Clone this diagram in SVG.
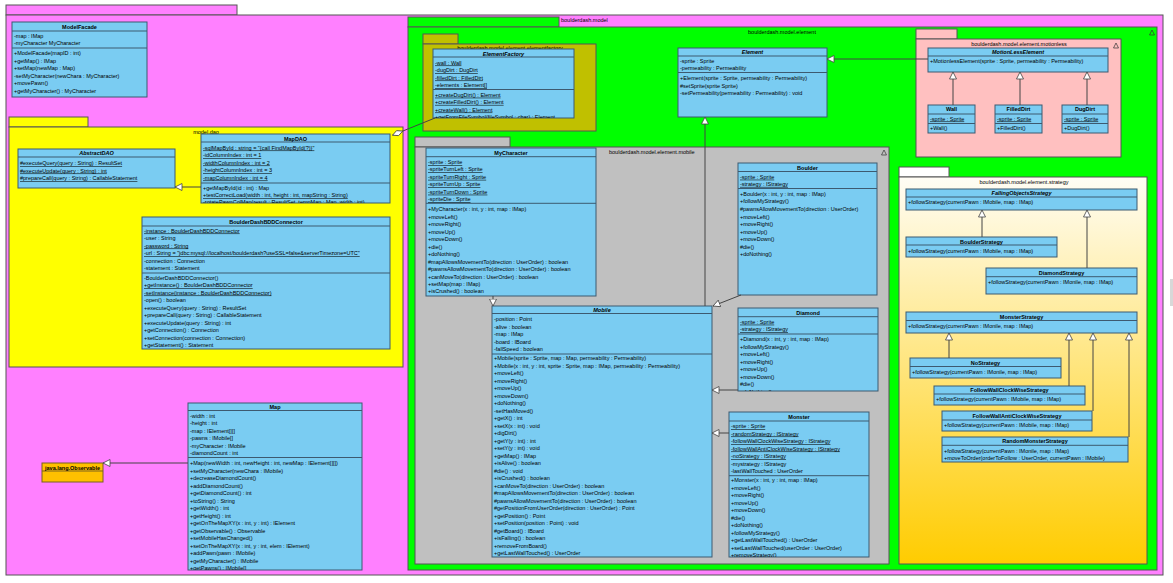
<svg xmlns="http://www.w3.org/2000/svg" width="1173" height="583" viewBox="0 0 1173 583">
<defs>
<style>
text{font-family:"Liberation Sans",Arial,Helvetica,sans-serif;font-size:5.5px;fill:#000}
.h{font-weight:bold;text-anchor:middle}
.i{font-style:italic}
.u{text-decoration:underline}
.m{text-anchor:middle}
.c{fill:#7ACCF2;stroke:#3D5A70;stroke-width:1}
.s{stroke:#3D5A70;stroke-width:1}
.p{stroke:#555;stroke-width:1}
.k{fill:none;stroke:#333;stroke-width:0.7}
.e{fill:none;stroke:#444;stroke-width:1}
</style>
<marker id="gen" markerUnits="userSpaceOnUse" markerWidth="8" markerHeight="8" viewBox="0 0 8 8" refX="7.5" refY="4" orient="auto"><path d="M0.5,0.5 L7.5,4 L0.5,7.5 Z" fill="#fff" stroke="#444" stroke-width="0.8"/></marker>
<marker id="agg" markerUnits="userSpaceOnUse" markerWidth="12" markerHeight="7" viewBox="0 0 12 7" refX="11.5" refY="3.5" orient="auto"><path d="M0.5,3.5 L6,0.8 L11.5,3.5 L6,6.2 Z" fill="#fff" stroke="#444" stroke-width="0.8"/></marker>
<linearGradient id="sg" x1="0" y1="0" x2="0" y2="1"><stop offset="0" stop-color="#FFFDF5"/><stop offset="1" stop-color="#FFCC00"/></linearGradient>
<clipPath id="cMapDAO"><rect x="201" y="134" width="189" height="69"/></clipPath>
<clipPath id="cEF"><rect x="433" y="49" width="141" height="69"/></clipPath>
<clipPath id="cDia"><rect x="738" y="308" width="140" height="83"/></clipPath>
<clipPath id="cMon"><rect x="729" y="412" width="140" height="145"/></clipPath>
<clipPath id="cMap"><rect x="188" y="403" width="174" height="167"/></clipPath>
</defs>

<g id="pkg-model">
<rect x="6" y="5" width="231" height="10" fill="#FF80FF" class="p"/>
<rect x="6" y="15" width="1157" height="560" fill="#FF80FF" class="p"/>
</g>
<rect x="1170" y="279" width="3" height="27" fill="#d8d8d8"/>

<g id="ModelFacade">
<rect x="12" y="22" width="135" height="75" class="c"/>
<line x1="12" y1="31" x2="147" y2="31" class="s"/>
<line x1="12" y1="48" x2="147" y2="48" class="s"/>
<text x="79.5" y="28.5" class="h">ModelFacade</text>
<text x="14" y="38">-map : IMap</text>
<text x="14" y="45">-myCharacter MyCharacter</text>
<text x="14" y="55">+ModelFacade(mapID : int)</text>
<text x="14" y="62.5">+getMap() : IMap</text>
<text x="14" y="70">+setMap(newMap : Map)</text>
<text x="14" y="77.5">-setMyCharacter(newChara : MyCharacter)</text>
<text x="14" y="85">+movePawn()</text>
<text x="14" y="92.5">+getMyCharacter() : MyCharacter</text>
</g>

<g id="pkg-dao">
<rect x="9" y="117" width="79" height="10" fill="#FFFF00" class="p"/>
<rect x="9" y="127" width="394" height="240" fill="#FFFF00" class="p"/>
<text x="206" y="134" class="m">model.dao</text>
</g>

<g id="AbstractDAO">
<rect x="18" y="149" width="157" height="39" class="c"/>
<line x1="18" y1="157" x2="175" y2="157" class="s"/>
<text x="96.5" y="155" class="h i">AbstractDAO</text>
<text x="20" y="165" class="u">#executeQuery(query : String) : ResultSet</text>
<text x="20" y="172.5" class="u">#executeUpdate(query : String) : int</text>
<text x="20" y="180" class="u">#prepareCall(query : String) : CallableStatement</text>
</g>

<g id="MapDAO">
<rect x="201" y="134" width="189" height="69" class="c"/>
<line x1="201" y1="142" x2="390" y2="142" class="s"/>
<line x1="201" y1="183" x2="390" y2="183" class="s"/>
<text x="295.5" y="140.5" class="h">MapDAO</text>
<g clip-path="url(#cMapDAO)">
<text x="203" y="149.5" class="u">-sqlMapById : string = "{call FindMapById(?)}"</text>
<text x="203" y="157" class="u">-idColumnIndex : int = 1</text>
<text x="203" y="164.5" class="u">-widthColumnIndex : int = 2</text>
<text x="203" y="172" class="u">-heightColumnIndex : int = 3</text>
<text x="203" y="179.5" class="u">-mapColumnIndex : int = 4</text>
<text x="203" y="189.5">+getMapById(id : int) : Map</text>
<text x="203" y="197" class="u">+testCorrectLoad(width : int, height : int, mapString : String)</text>
<text x="203" y="203.5">-rotatePawnColMap(result : ResultSet, tempMap : Map, width : int)</text>
</g>
</g>

<g id="BoulderDashBDDConnector">
<rect x="142" y="217" width="248" height="132" class="c"/>
<line x1="142" y1="226" x2="390" y2="226" class="s"/>
<line x1="142" y1="273" x2="390" y2="273" class="s"/>
<text x="266" y="223.7" class="h">BoulderDashBDDConnector</text>
<text x="144" y="232.5" class="u">-instance : BoulderDashBDDConnector</text>
<text x="144" y="240">-user : String</text>
<text x="144" y="247.5" class="u">-password : String</text>
<text x="144" y="255" class="u">-url : String = "jdbc:mysql://localhost/boulderdash?useSSL=false&amp;serverTimezone=UTC"</text>
<text x="144" y="262.5">-connection : Connection</text>
<text x="144" y="270">-statement : Statement</text>
<text x="144" y="279.5">-BoulderDashBDDConnector()</text>
<text x="144" y="287" class="u">+getInstance() : BoulderDashBDDConnector</text>
<text x="144" y="294.5" class="u">-setInstance(instance : BoulderDashBDDConnector)</text>
<text x="144" y="302">-open() : boolean</text>
<text x="144" y="309.5">+executeQuery(query : String) : ResultSet</text>
<text x="144" y="317">+prepareCall(query : String) : CallableStatement</text>
<text x="144" y="324.5">+executeUpdate(query : String) : int</text>
<text x="144" y="332">+getConnection() : Connection</text>
<text x="144" y="339.5">+setConnection(connection : Connection)</text>
<text x="144" y="347">+getStatement() : Statement</text>
</g>

<g id="Map">
<rect x="188" y="403" width="174" height="167" class="c"/>
<line x1="188" y1="410.5" x2="362" y2="410.5" class="s"/>
<line x1="188" y1="457.5" x2="362" y2="457.5" class="s"/>
<text x="275" y="409" class="h">Map</text>
<g clip-path="url(#cMap)">
<text x="190" y="417.5">-width : int</text>
<text x="190" y="425">-height : int</text>
<text x="190" y="432.5">-map : IElement[][]</text>
<text x="190" y="440">-pawns : IMobile[]</text>
<text x="190" y="447.5">-myCharacter : IMobile</text>
<text x="190" y="455">-diamondCount : int</text>
<text x="190" y="465">+Map(newWidth : int, newHeight : int, newMap : IElement[][])</text>
<text x="190" y="472.5">+setMyCharacter(newChara : IMobile)</text>
<text x="190" y="480">+decreaseDiamondCount()</text>
<text x="190" y="487.5">+addDiamondCount()</text>
<text x="190" y="495">+getDiamondCount() : int</text>
<text x="190" y="502.5">+toString() : String</text>
<text x="190" y="510">+getWidth() : int</text>
<text x="190" y="517.5">+getHeight() : int</text>
<text x="190" y="525">+getOnTheMapXY(x : int, y : int) : IElement</text>
<text x="190" y="532.5">+getObservable() : Observable</text>
<text x="190" y="540">+setMobileHasChanged()</text>
<text x="190" y="547.5">+setOnTheMapXY(x : int, y : int, elem : IElement)</text>
<text x="190" y="555">+addPawn(pawn : IMobile)</text>
<text x="190" y="562.5">+getMyCharacter() : IMobile</text>
<text x="190" y="570">+getPawns() : IMobile[]</text>
</g>
</g>

<g id="Observable">
<rect x="42" y="463" width="61" height="19" fill="#FFC000" stroke="#7A6020" stroke-width="1"/>
<line x1="42" y1="471" x2="103" y2="471" stroke="#7A6020" stroke-width="1"/>
<text x="72.5" y="469.5" class="h">java.lang.Observable</text>
</g>

<g id="pkg-boulderdash-model">
<rect x="408" y="17" width="151" height="10" fill="#00FF00" class="p"/>
<rect x="408" y="27" width="749" height="543" fill="#00FF00" class="p"/>
<text x="561" y="22">boulderdash.model</text>
<text x="782" y="34" class="m">boulderdash.model.element</text>
<polygon points="1149.5,35 1152,30 1154.5,35" class="k"/>
</g>

<g id="pkg-elementfactory">
<rect x="423" y="34" width="35" height="10" fill="#C0C000" class="p"/>
<rect x="423" y="44" width="173" height="87" fill="#C0C000" class="p"/>
<text x="510" y="50" class="m">boulderdash.model.element.elementfactory</text>
</g>

<g id="ElementFactory">
<rect x="433" y="49" width="141" height="69" class="c"/>
<line x1="433" y1="57" x2="574" y2="57" class="s"/>
<line x1="433" y1="89.5" x2="574" y2="89.5" class="s"/>
<text x="503.5" y="55.5" class="h i">ElementFactory</text>
<g clip-path="url(#cEF)">
<text x="435" y="64.5" class="u">-wall : Wall</text>
<text x="435" y="72" class="u">-dugDirt : DugDirt</text>
<text x="435" y="79.5" class="u">-filledDirt : FilledDirt</text>
<text x="435" y="87" class="u">-elements : Element[]</text>
<text x="435" y="96.7" class="u">+createDugDirt() : Element</text>
<text x="435" y="103.9" class="u">+createFilledDirt() : Element</text>
<text x="435" y="111.5" class="u">+createWall() : Element</text>
<text x="435" y="118.7" class="u">+getFromFileSymbol(fileSymbol : char) : Element</text>
</g>
</g>

<g id="Element">
<rect x="678" y="48" width="149" height="69" class="c"/>
<line x1="678" y1="56" x2="827" y2="56" class="s"/>
<line x1="678" y1="72.5" x2="827" y2="72.5" class="s"/>
<text x="752.5" y="53.7" class="h i">Element</text>
<text x="680" y="63">-sprite : Sprite</text>
<text x="680" y="70">-permeability : Permeability</text>
<text x="680" y="80">+Element(sprite : Sprite, permeability : Permeability)</text>
<text x="680" y="87.5">#setSprite(sprite Sprite)</text>
<text x="680" y="95">-setPermeability(permeability : Permeability) : void</text>
</g>

<g id="pkg-motionless">
<rect x="916" y="29" width="41" height="10" fill="#FFC0C0" class="p"/>
<rect x="916" y="39" width="205" height="118" fill="#FFC0C0" class="p"/>
<text x="1019" y="46" class="m">boulderdash.model.element.motionless</text>
<polygon points="1113.5,48 1116,43 1118.5,48" class="k"/>
</g>

<g id="MotionLessElement">
<rect x="928" y="48" width="180" height="24" class="c"/>
<line x1="928" y1="56" x2="1108" y2="56" class="s"/>
<text x="1018" y="53.7" class="h i">MotionLessElement</text>
<text x="930" y="63">+MotionlessElement(sprite : Sprite, permeability : Permeability)</text>
</g>

<g id="Wall">
<rect x="928" y="105" width="47" height="28" class="c"/>
<line x1="928" y1="114" x2="975" y2="114" class="s"/>
<line x1="928" y1="123.5" x2="975" y2="123.5" class="s"/>
<text x="951.5" y="111.3" class="h">Wall</text>
<text x="930" y="120.5" class="u">-sprite : Sprite</text>
<text x="930" y="130">+Wall()</text>
</g>

<g id="FilledDirt">
<rect x="995" y="105" width="47" height="28" class="c"/>
<line x1="995" y1="114" x2="1042" y2="114" class="s"/>
<line x1="995" y1="123.5" x2="1042" y2="123.5" class="s"/>
<text x="1018.5" y="111.3" class="h">FilledDirt</text>
<text x="997" y="120.5" class="u">-sprite : Sprite</text>
<text x="997" y="130">+FilledDirt()</text>
</g>

<g id="DugDirt">
<rect x="1062" y="105" width="46" height="28" class="c"/>
<line x1="1062" y1="114" x2="1108" y2="114" class="s"/>
<line x1="1062" y1="123.5" x2="1108" y2="123.5" class="s"/>
<text x="1085" y="111.3" class="h">DugDirt</text>
<text x="1064" y="120.5" class="u">-sprite : Sprite</text>
<text x="1064" y="130">+DugDirt()</text>
</g>

<g id="pkg-mobile">
<rect x="415" y="137" width="95" height="10" fill="#C0C0C0" class="p"/>
<rect x="415" y="147" width="474" height="417" fill="#C0C0C0" class="p"/>
<text x="609" y="154">boulderdash.model.element.mobile</text>
<polygon points="881.5,155 884,150 886.5,155" class="k"/>
</g>

<g id="MyCharacter">
<rect x="426" y="148" width="170" height="148" class="c"/>
<line x1="426" y1="156.7" x2="596" y2="156.7" class="s"/>
<line x1="426" y1="203.3" x2="596" y2="203.3" class="s"/>
<text x="511" y="154.7" class="h">MyCharacter</text>
<text x="428" y="164" class="u">-sprite : Sprite</text>
<text x="428" y="171.3" class="u">-spriteTurnLeft : Sprite</text>
<text x="428" y="178.8" class="u">-spriteTurnRight : Sprite</text>
<text x="428" y="186" class="u">-spriteTurnUp : Sprite</text>
<text x="428" y="193.7" class="u">-spriteTurnDown : Sprite</text>
<text x="428" y="201" class="u">-spriteDie : Sprite</text>
<text x="428" y="211">+MyCharacter(x : int, y : int, map : IMap)</text>
<text x="428" y="218.5">+moveLeft()</text>
<text x="428" y="226">+moveRight()</text>
<text x="428" y="233.5">+moveUp()</text>
<text x="428" y="241">+moveDown()</text>
<text x="428" y="248.5">+die()</text>
<text x="428" y="256">+doNothing()</text>
<text x="428" y="263.5">#mapAllowsMovementTo(direction : UserOrder) : boolean</text>
<text x="428" y="271">#pawnsAllowMovementTo(direction : UserOrder) : boolean</text>
<text x="428" y="278.5">+canMoveTo(direction : UserOrder) : boolean</text>
<text x="428" y="286">+setMap(map : IMap)</text>
<text x="428" y="293">+isCrushed() : boolean</text>
</g>

<g id="Mobile">
<rect x="492" y="306" width="220" height="251" class="c"/>
<line x1="492" y1="313.5" x2="712" y2="313.5" class="s"/>
<line x1="492" y1="354" x2="712" y2="354" class="s"/>
<text x="602" y="311.8" class="h i">Mobile</text>
<text x="494" y="321">-position : Point</text>
<text x="494" y="328.5">-alive : boolean</text>
<text x="494" y="336">-map : IMap</text>
<text x="494" y="343.5">-board : IBoard</text>
<text x="494" y="351">-fallSpeed : boolean</text>
<text x="494" y="360">+Mobile(sprite : Sprite, map : Map, permeability : Permeability)</text>
<text x="494" y="367.5">+Mobile(x : int, y : int, sprite : Sprite, map : IMap, permeability : Permeability)</text>
<text x="494" y="375">+moveLeft()</text>
<text x="494" y="382.5">+moveRight()</text>
<text x="494" y="390">+moveUp()</text>
<text x="494" y="397.5">+moveDown()</text>
<text x="494" y="405">+doNothing()</text>
<text x="494" y="412.5">-setHasMoved()</text>
<text x="494" y="420">+getX() : int</text>
<text x="494" y="427.5">+setX(x : int) : void</text>
<text x="494" y="435">+digDirt()</text>
<text x="494" y="442.5">+getY(y : int) : int</text>
<text x="494" y="450">+setY(y : int) : void</text>
<text x="494" y="457.5">+getMap() : IMap</text>
<text x="494" y="465">+isAlive() : boolean</text>
<text x="494" y="472.5">#die() : void</text>
<text x="494" y="480">+isCrushed() : boolean</text>
<text x="494" y="487.5">+canMoveTo(direction : UserOrder) : boolean</text>
<text x="494" y="495">#mapAllowsMovementTo(direction : UserOrder) : boolean</text>
<text x="494" y="502.5">#pawnsAllowMovementTo(direction : UserOrder) : boolean</text>
<text x="494" y="510">#getPositionFromUserOrder(direction : UserOrder) : Point</text>
<text x="494" y="517.5">+getPosition() : Point</text>
<text x="494" y="525">+setPosition(position : Point) : void</text>
<text x="494" y="532.5">#getBoard() : IBoard</text>
<text x="494" y="540">+isFalling() : boolean</text>
<text x="494" y="547.5">+removeFromBoard()</text>
<text x="494" y="555">+getLastWallTouched() : UserOrder</text>
</g>

<g id="Boulder">
<rect x="738" y="163" width="139" height="132" class="c"/>
<line x1="738" y1="171.5" x2="877" y2="171.5" class="s"/>
<line x1="738" y1="188.5" x2="877" y2="188.5" class="s"/>
<text x="807.5" y="169.7" class="h">Boulder</text>
<text x="740" y="178.7" class="u">-sprite : Sprite</text>
<text x="740" y="185.9" class="u">-strategy : IStrategy</text>
<text x="740" y="195.5">+Boulder(x : int, y : int, map : IMap)</text>
<text x="740" y="203.3">+followMyStrategy()</text>
<text x="740" y="211">#pawnsAllowMovementTo(direction : UserOrder)</text>
<text x="740" y="218.5">+moveLeft()</text>
<text x="740" y="226">+moveRight()</text>
<text x="740" y="233.5">+moveUp()</text>
<text x="740" y="241">+moveDown()</text>
<text x="740" y="248.5">#die()</text>
<text x="740" y="256">+doNothing()</text>
</g>

<g id="Diamond">
<rect x="738" y="308" width="140" height="83" class="c"/>
<line x1="738" y1="316.7" x2="878" y2="316.7" class="s"/>
<line x1="738" y1="334" x2="878" y2="334" class="s"/>
<text x="808" y="315" class="h">Diamond</text>
<g clip-path="url(#cDia)">
<text x="740" y="323.7" class="u">-sprite : Sprite</text>
<text x="740" y="331" class="u">-strategy : IStrategy</text>
<text x="740" y="341.3">+Diamond(x : int, y : int, map : IMap)</text>
<text x="740" y="348.5">+followMyStrategy()</text>
<text x="740" y="356">+moveLeft()</text>
<text x="740" y="363.5">+moveRight()</text>
<text x="740" y="371">+moveUp()</text>
<text x="740" y="378.5">+moveDown()</text>
<text x="740" y="386">#die()</text>
<text x="740" y="393.5">+doNothing()</text>
</g>
</g>

<g id="Monster">
<rect x="729" y="412" width="140" height="145" class="c"/>
<line x1="729" y1="421" x2="869" y2="421" class="s"/>
<line x1="729" y1="475.7" x2="869" y2="475.7" class="s"/>
<text x="799" y="419" class="h">Monster</text>
<g clip-path="url(#cMon)">
<text x="731" y="428.3" class="u">-sprite : Sprite</text>
<text x="731" y="435.5" class="u">-randomStrategy : IStrategy</text>
<text x="731" y="443" class="u">-followWallClockWiseStrategy : IStrategy</text>
<text x="731" y="450.5" class="u">-followWallAntiClockWiseStrategy : IStrategy</text>
<text x="731" y="458" class="u">-noStrategy : IStrategy</text>
<text x="731" y="465.5">-mystrategy : IStrategy</text>
<text x="731" y="473">-lastWallTouched : UserOrder</text>
<text x="731" y="481.7">+Monster(x : int, y : int, map : IMap)</text>
<text x="731" y="489.5">+moveLeft()</text>
<text x="731" y="497">+moveRight()</text>
<text x="731" y="504.5">+moveUp()</text>
<text x="731" y="512">+moveDown()</text>
<text x="731" y="519.5">#die()</text>
<text x="731" y="527">+doNothing()</text>
<text x="731" y="534.5">+followMyStrategy()</text>
<text x="731" y="542">+getLastWallTouched() : UserOrder</text>
<text x="731" y="549.5">+setLastWallTouched(userOrder : UserOrder)</text>
<text x="731" y="557">+removeStrategy()</text>
</g>
</g>

<g id="pkg-strategy">
<rect x="899" y="167" width="50" height="10" fill="#FFFFFF" class="p"/>
<rect x="899" y="177" width="248" height="387" fill="url(#sg)" class="p"/>
<text x="1024" y="184" class="m">boulderdash.model.element.strategy</text>
</g>

<g id="FallingObjectsStrategy">
<rect x="906" y="189" width="231" height="21" class="c"/>
<line x1="906" y1="197" x2="1137" y2="197" class="s"/>
<text x="1021.5" y="195" class="h i">FallingObjectsStrategy</text>
<text x="908" y="204">+followStrategy(currentPawn : IMobile, map : IMap)</text>
</g>

<g id="BoulderStrategy">
<rect x="906" y="237" width="151" height="20" class="c"/>
<line x1="906" y1="245" x2="1057" y2="245" class="s"/>
<text x="981.5" y="243.5" class="h">BoulderStrategy</text>
<text x="908" y="253">+followStrategy(currentPawn : IMobile, map : IMap)</text>
</g>

<g id="DiamondStrategy">
<rect x="986" y="268" width="151" height="26" class="c"/>
<line x1="986" y1="276.7" x2="1137" y2="276.7" class="s"/>
<text x="1061.5" y="275" class="h">DiamondStrategy</text>
<text x="988" y="284">+followStrategy(currentPawn : IMonile, map : IMap)</text>
</g>

<g id="MonsterStrategy">
<rect x="906" y="312" width="231" height="21" class="c"/>
<line x1="906" y1="320.5" x2="1137" y2="320.5" class="s"/>
<text x="1021.5" y="319" class="h">MonsterStrategy</text>
<text x="908" y="327.7">+followStrategy(currentPawn : IMonile, map : IMap)</text>
</g>

<g id="NoStrategy">
<rect x="910" y="358" width="151" height="20" class="c"/>
<line x1="910" y1="366.5" x2="1061" y2="366.5" class="s"/>
<text x="985.5" y="365" class="h">NoStrategy</text>
<text x="912" y="374">+followStrategy(currentPawn : IMonile, map : IMap)</text>
</g>

<g id="FollowWallClockWiseStrategy">
<rect x="934" y="386" width="151" height="19" class="c"/>
<line x1="934" y1="394" x2="1085" y2="394" class="s"/>
<text x="1009.5" y="392" class="h">FollowWallClockWiseStrategy</text>
<text x="936" y="401">+followStrategy(currentPawn : IMobile, map : IMap)</text>
</g>

<g id="FollowWallAntiClockWiseStrategy">
<rect x="942" y="411" width="150" height="20" class="c"/>
<line x1="942" y1="420" x2="1092" y2="420" class="s"/>
<text x="1017" y="417.5" class="h">FollowWallAntiClockWiseStrategy</text>
<text x="944" y="426.7">+followStrategy(currentPawn : IMobile, map : IMap)</text>
</g>

<g id="RandomMonsterStrategy">
<rect x="942" y="437" width="186" height="25" class="c"/>
<line x1="942" y1="445.3" x2="1128" y2="445.3" class="s"/>
<text x="1035" y="443.3" class="h">RandomMonsterStrategy</text>
<text x="944" y="452.7">+followStrategy(currentPawn : IMonile, map : IMap)</text>
<text x="944" y="460">+moveToOrder(orderToFollow : UserOrder, currentPawn : IMobile)</text>
</g>

<g id="connectors">
<path d="M201,187 L175,187" class="e" marker-end="url(#gen)"/>
<path d="M188,463 L103,463" class="e" marker-end="url(#gen)"/>
<path d="M435,118 L392.5,135.2" class="e" marker-end="url(#agg)"/>
<path d="M493,296 L493,306" class="e" marker-end="url(#gen)"/>
<path d="M705,306 L705,117" class="e" marker-end="url(#gen)"/>
<path d="M741,295 L713,306" class="e" marker-end="url(#gen)"/>
<path d="M738,390 L712,390" class="e" marker-end="url(#gen)"/>
<path d="M729,433 L712,433" class="e" marker-end="url(#gen)"/>
<path d="M928,59 L827,59" class="e" marker-end="url(#gen)"/>
<path d="M953,105 L953,72" class="e" marker-end="url(#gen)"/>
<path d="M1020,105 L1020,72" class="e" marker-end="url(#gen)"/>
<path d="M1087,105 L1087,72" class="e" marker-end="url(#gen)"/>
<path d="M982,237 L982,210" class="e" marker-end="url(#gen)"/>
<path d="M1087,268 L1087,210" class="e" marker-end="url(#gen)"/>
<path d="M949,358 L949,333" class="e" marker-end="url(#gen)"/>
<path d="M1069,386 L1069,333" class="e" marker-end="url(#gen)"/>
<path d="M1093,411 L1093,333" class="e" marker-end="url(#gen)"/>
<path d="M1129,437 L1129,333" class="e" marker-end="url(#gen)"/>
</g>
</svg>
